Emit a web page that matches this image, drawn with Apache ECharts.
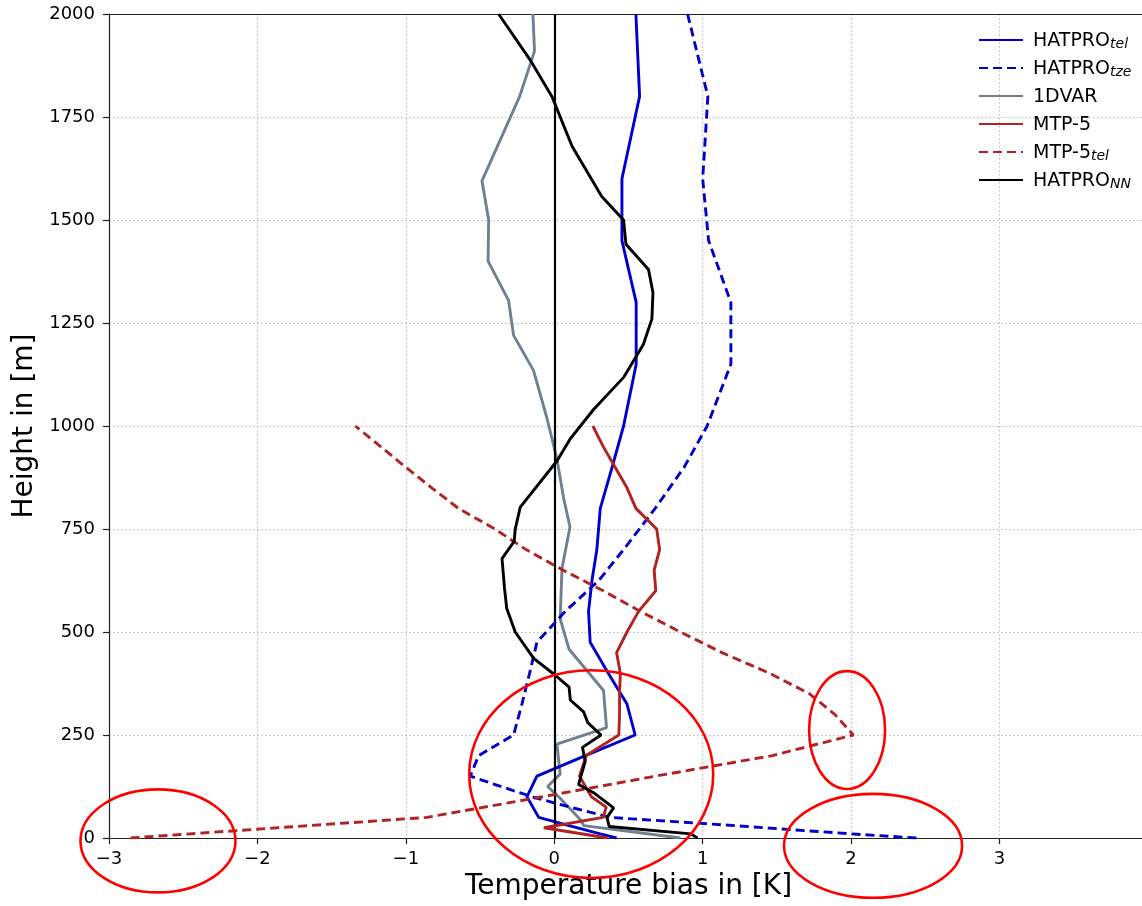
<!DOCTYPE html>
<html>
<head>
<meta charset="utf-8">
<script src="https://cdn.jsdelivr.net/npm/echarts@6/dist/echarts.min.js"></script>
<style>
  html, body { margin: 0; padding: 0; background: #fff; }
  #chart { width: 1142px; height: 906px; }
</style>
</head>
<body>
<div id="chart"></div>
<script>
// Temperature bias profiles (K) against height (m)

const legendNames = ['HATPRO_tel', 'HATPRO_tze', '1DVAR', 'MTP-5', 'MTP-5_tel', 'HATPRO_NN'];

const heightsTel = [0, 10, 30, 50, 100, 150, 200, 250, 325, 400, 475, 550, 625, 700, 800, 900, 1000, 1150, 1300, 1450, 1600, 1800, 2000];
const biasTel    = [0.42, 0.31, 0.10, -0.105, -0.184, -0.117, 0.21, 0.545, 0.49, 0.364, 0.242, 0.231, 0.254, 0.287, 0.31, 0.39, 0.467, 0.552, 0.552, 0.456, 0.456, 0.575, 0.55];

const heightsTze = [0, 10, 30, 50, 75, 100, 150, 200, 250, 325, 400, 475, 550, 625, 700, 800, 900, 1000, 1150, 1300, 1450, 1600, 1800, 2000];
const biasTze    = [2.44, 2.0, 1.22, 0.377, 0.105, -0.15, -0.566, -0.51, -0.274, -0.218, -0.166, -0.117, 0.074, 0.30, 0.467, 0.68, 0.875, 1.03, 1.19, 1.19, 1.04, 1.0, 1.035, 0.898];

const heights1dvar = [0, 30, 45, 100, 125, 155, 228, 268, 358, 458, 532, 654, 755, 825, 920, 1020, 1135, 1220, 1305, 1400, 1500, 1595, 1800, 1910, 2000];
const bias1dvar    = [0.85, 0.20, 0.175, 0.03, -0.045, 0.04, 0.018, 0.352, 0.332, 0.10, 0.04, 0.052, 0.106, 0.063, 0.018, -0.05, -0.14, -0.274, -0.308, -0.446, -0.442, -0.487, -0.233, -0.133, -0.144];

const heightsMtp = [0, 25, 50, 75, 100, 150, 200, 250, 300, 350, 400, 450, 500, 550, 600, 650, 700, 750, 800, 850, 900, 950, 1000];
const biasMtp    = [0.36, -0.07, 0.33, 0.35, 0.25, 0.17, 0.215, 0.435, 0.44, 0.44, 0.445, 0.42, 0.49, 0.568, 0.684, 0.673, 0.71, 0.69, 0.55, 0.49, 0.41, 0.33, 0.26];

const heightsMtpTel = [0, 50, 100, 150, 200, 250, 300, 350, 400, 450, 500, 550, 600, 650, 700, 750, 800, 850, 900, 950, 1000];
const biasMtpTel    = [-2.855, -0.86, -0.08, 0.68, 1.47, 2.015, 1.89, 1.72, 1.45, 1.13, 0.85, 0.58, 0.33, 0.06, -0.19, -0.40, -0.646, -0.826, -1.0, -1.17, -1.34];

const heightsNN = [0, 10, 28, 50, 73, 110, 130, 186, 220, 250, 280, 306, 335, 366, 395, 436, 500, 557, 605, 678, 720, 750, 803, 915, 969, 1040, 1118, 1198, 1260, 1324, 1380, 1441, 1500, 1557, 1679, 1800, 1890, 2000];
const biasNN    = [0.965, 0.92, 0.37, 0.355, 0.40, 0.265, 0.164, 0.209, 0.19, 0.315, 0.226, 0.198, 0.108, 0.10, 0.007, -0.139, -0.263, -0.32, -0.335, -0.352, -0.27, -0.263, -0.229, 0.018, 0.108, 0.265, 0.467, 0.60, 0.658, 0.665, 0.635, 0.483, 0.467, 0.32, 0.12, -0.016, -0.165, -0.375];

// highlighted regions: [centre bias, centre height, half-width (K), half-height (m)]
const highlightRegions = [
  [-2.67, -7, 0.522, 125],
  [0.249, 155, 0.822, 252],
  [1.973, 262, 0.256, 143],
  [2.148, -19, 0.60, 126]
];

const xTicks = [-3, -2, -1, 0, 1, 2, 3];

const FONT = 'DejaVu Sans';
const BLUE = '#0000cd';
const GREY = '#708090';
const RED = '#b22222';
const LINE_W = 2.9;

function pairs(h, v) { return h.map((y, i) => [v[i], y]); }

function profile(name, h, v, color, dashed, z) {
  return {
    name: name,
    type: 'line',
    data: pairs(h, v),
    symbol: 'none',
    showSymbol: false,
    z: z,
    animation: false,
    lineStyle: { color: color, width: LINE_W, type: dashed ? [9, 5] : 'solid' },
    itemStyle: { color: color },
    emphasis: { disabled: true }
  };
}

const subLabels = {
  'HATPRO_tel': ['HATPRO', 'tel'],
  'HATPRO_tze': ['HATPRO', 'tze'],
  '1DVAR': ['1DVAR', ''],
  'MTP-5': ['MTP-5', ''],
  'MTP-5_tel': ['MTP-5', 'tel'],
  'HATPRO_NN': ['HATPRO', 'NN']
};

const chart = echarts.init(document.getElementById('chart'), null, { renderer: 'canvas' });

const nnSeries = profile('HATPRO_NN', heightsNN, biasNN, '#000000', false, 8);
nnSeries.markLine = {
  silent: true,
  symbol: ['none', 'none'],
  label: { show: false },
  animation: false,
  lineStyle: { color: '#000', width: 2.2, type: 'solid' },
  emphasis: { disabled: true },
  data: [{ xAxis: 0 }]
};

const tickFmt = v => (v < 0 ? '\u2212' + Math.abs(v) : String(v));

const option = {
  backgroundColor: '#ffffff',
  animation: false,
  textStyle: { fontFamily: FONT },
  grid: { left: 109, right: 0, top: 14, bottom: 66, containLabel: false },
  xAxis: [{
    type: 'value',
    min: -3,
    max: 3.96,
    name: 'Temperature bias in [K]',
    nameLocation: 'middle',
    nameGap: 35,
    nameTextStyle: { fontFamily: FONT, fontSize: 28, color: '#000', padding: [0, 0, 0, 6] },
    axisLine: { show: true, onZero: false, lineStyle: { color: '#222', width: 1.2 } },
    axisTick: { show: true, inside: false, length: 6, customValues: xTicks,
                lineStyle: { color: '#222', width: 1.2 } },
    axisLabel: {
      show: true, margin: 12, fontFamily: FONT, fontSize: 18, color: '#000',
      customValues: xTicks,
      formatter: tickFmt
    },
    splitLine: { show: true, lineStyle: { color: '#b8b8b8', width: 1.1, type: [1.5, 2.5] } }
  }, {
    type: 'value',
    position: 'top',
    min: -3,
    max: 3.96,
    axisLine: { show: true, onZero: false, lineStyle: { color: '#222', width: 1.2 } },
    axisTick: { show: false },
    axisLabel: { show: false },
    splitLine: { show: false }
  }],
  yAxis: {
    type: 'value',
    min: 0,
    max: 2000,
    interval: 250,
    name: 'Height in [m]',
    nameLocation: 'middle',
    nameGap: 56,
    nameTextStyle: { fontFamily: FONT, fontSize: 28, color: '#000' },
    axisLine: { show: true, onZero: false, lineStyle: { color: '#222', width: 1.2 } },
    axisTick: { show: true, inside: false, length: 6, lineStyle: { color: '#222', width: 1.2 } },
    axisLabel: { show: true, margin: 14, fontFamily: FONT, fontSize: 18, color: '#000',
                 formatter: v => String(v) },
    splitLine: { show: true, lineStyle: { color: '#b8b8b8', width: 1.1, type: [1.5, 2.5] } }
  },
  legend: {
    data: legendNames,
    orient: 'vertical',
    left: 973,
    top: 27,
    itemWidth: 44,
    itemHeight: 14,
    itemGap: 9,
    selectedMode: false,
    itemStyle: { color: 'rgba(0,0,0,0)', borderColor: 'rgba(0,0,0,0)', borderWidth: 0, opacity: 0 },
    textStyle: {
      fontFamily: FONT, fontSize: 19, color: '#000',
      rich: {
        m: { fontFamily: FONT, fontSize: 19, color: '#000', lineHeight: 22, verticalAlign: 'bottom',
             padding: [0, 0, 0, 5] },
        s: { fontFamily: FONT, fontSize: 14, fontStyle: 'italic', color: '#000', lineHeight: 14,
             verticalAlign: 'bottom' }
      }
    },
    formatter: name => {
      const p = subLabels[name];
      return p[1] ? '{m|' + p[0] + '}{s|' + p[1] + '}' : '{m|' + p[0] + '}';
    }
  },
  series: [
    profile('1DVAR', heights1dvar, bias1dvar, GREY, false, 3),
    profile('HATPRO_tel', heightsTel, biasTel, BLUE, false, 4),
    profile('HATPRO_tze', heightsTze, biasTze, BLUE, true, 5),
    profile('MTP-5', heightsMtp, biasMtp, RED, false, 6),
    profile('MTP-5_tel', heightsMtpTel, biasMtpTel, RED, true, 7),
    nnSeries,
    {
      name: 'regions',
      type: 'custom',
      silent: true,
      clip: false,
      z: 20,
      animation: false,
      data: highlightRegions,
      encode: { x: 0, y: 1 },
      renderItem: (params, api) => {
        const c = api.coord([api.value(0), api.value(1)]);
        const s = api.size([api.value(2), api.value(3)]);
        return {
          type: 'ellipse',
          shape: { cx: c[0], cy: c[1], rx: s[0], ry: s[1] },
          style: { fill: 'none', stroke: '#ff0000', lineWidth: 2.6 }
        };
      }
    }
  ]
};

chart.setOption(option);
</script>
</body>
</html>
